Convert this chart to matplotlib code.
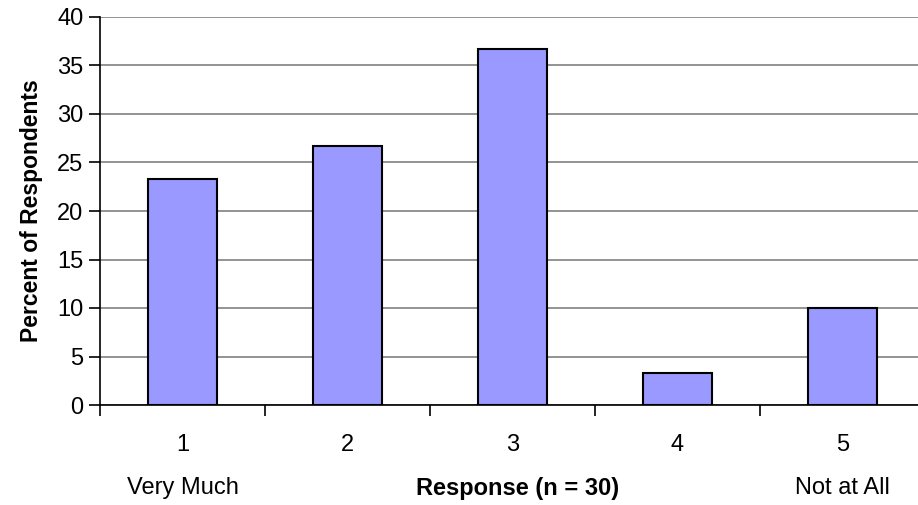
import matplotlib
matplotlib.use("Agg")
import matplotlib.pyplot as plt
import numpy as np

categories = ["1", "2", "3", "4", "5"]
percent = [23.33, 26.67, 36.67, 3.33, 10.0]
end_labels = ["Very Much", "Not at All"]
xlabel = "Response (n = 30)"
ylabel = "Percent of Respondents"

plt.rcParams["font.family"] = ["Liberation Sans", "DejaVu Sans"]

W, H = 918, 505
fig = plt.figure(figsize=(W / 100, H / 100), dpi=100)
ax = fig.add_axes([100 / W, 100 / H, 825 / W, 388 / H])

x = np.arange(len(categories))
ax.bar(x, percent, width=0.414, color="#9999FF", edgecolor="black", linewidth=1.5, zorder=3)

ax.set_xlim(-0.5, len(categories) - 0.5)
ax.set_ylim(0, 40)
ax.set_yticks(np.arange(0, 41, 5))
ax.yaxis.grid(True, color="#808080", linewidth=1.2, zorder=0)

ax.set_xticks(x)
ax.set_xticklabels(categories)
ax.set_xticks(np.arange(-0.5, len(categories), 1.0), minor=True)
ax.tick_params(axis="x", which="major", length=0, pad=21, labelsize=17)
ax.tick_params(axis="x", which="minor", length=8, width=1.2, direction="out")
ax.tick_params(axis="y", length=8, width=1.2, direction="out", labelsize=17, pad=4)

for side in ("top", "right"):
    ax.spines[side].set_visible(False)
ax.spines["left"].set_linewidth(1.2)
ax.spines["bottom"].set_linewidth(1.2)

ax.set_ylabel(ylabel, fontsize=16.5, fontweight="bold", labelpad=10)

# labels under the axis
ax.text(0, -8.6, end_labels[0], ha="center", va="center", fontsize=17)
ax.text(len(categories) - 1, -8.6, end_labels[1], ha="center", va="center", fontsize=17)
ax.text((len(categories) - 1) / 2 + 0.03, -8.6, xlabel, ha="center", va="center",
        fontsize=17, fontweight="bold")

fig.savefig("out.png", dpi=100)
